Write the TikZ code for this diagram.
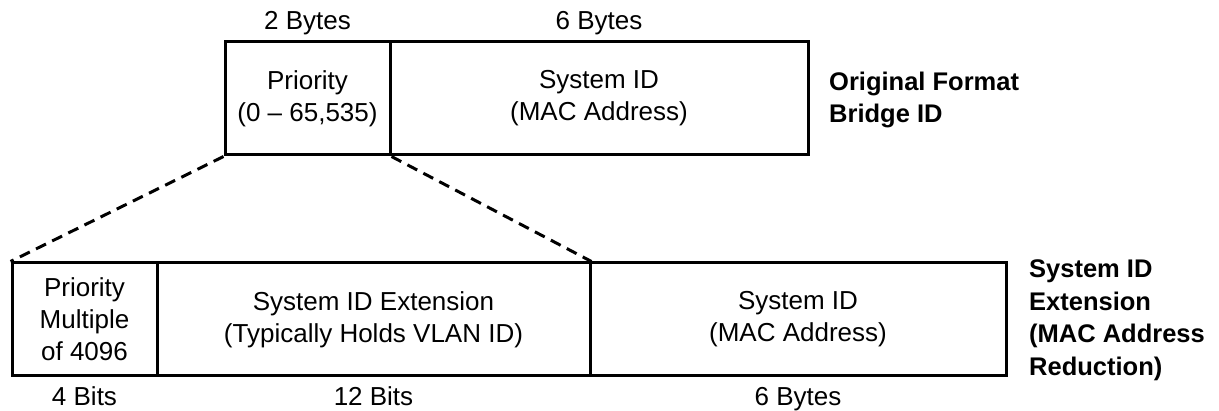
\documentclass[tikz,border=0pt]{standalone}
\usepackage{fontspec}
\setmainfont{Liberation Sans}
\begin{document}
\begin{tikzpicture}[x=1pt,y=-1pt,
  field/.style={draw=black,line width=3pt,minimum height=113pt,inner sep=0pt,align=center,
    font=\fontsize{26}{32}\selectfont},
  lbl/.style={font=\fontsize{26}{32}\selectfont,inner sep=0pt,anchor=base},
  side/.style={font=\fontsize{25.5}{32.5}\selectfont\bfseries,align=left,anchor=west,inner sep=0pt},
  zoomline/.style={line width=3pt,dash pattern=on 11pt off 7pt}]
\useasboundingbox (0,0) rectangle (1219,411);
% top
\node[field,minimum width=165pt] (tp) at (307.5,98.5) {Priority\\(0 -- 65,535)};
\node[field,minimum width=418pt] (ts) at (599,98.5) {System ID\\(MAC Address)};
\node[lbl] (b2) at (307.5,30) {2 Bytes};
\node[lbl] (b6) at (599,30) {6 Bytes};
\node[side] (orig) at (829,100) {Original Format\\Bridge ID};
% bottom
\node[field,minimum width=145pt] (bp) at (84.5,319.5) {Priority\\Multiple\\of 4096};
\node[field,minimum width=433pt] (be) at (373.5,319.5) {System ID Extension\\(Typically Holds VLAN ID)};
\node[field,minimum width=416pt] (bs) at (798,319.5) {System ID\\(MAC Address)};
\node[lbl] (l4) at (84.5,406) {4 Bits};
\node[lbl] (l12) at (373.5,406) {12 Bits};
\node[lbl] (l6) at (798,406) {6 Bytes};
\node[side] (ext) at (1029,320) {System ID\\Extension\\(MAC Address\\Reduction)};
% zoom lines
\draw[zoomline] (tp.south west) -- (bp.north west);
\draw[zoomline] (tp.south east) -- (be.north east);
\end{tikzpicture}
\end{document}
